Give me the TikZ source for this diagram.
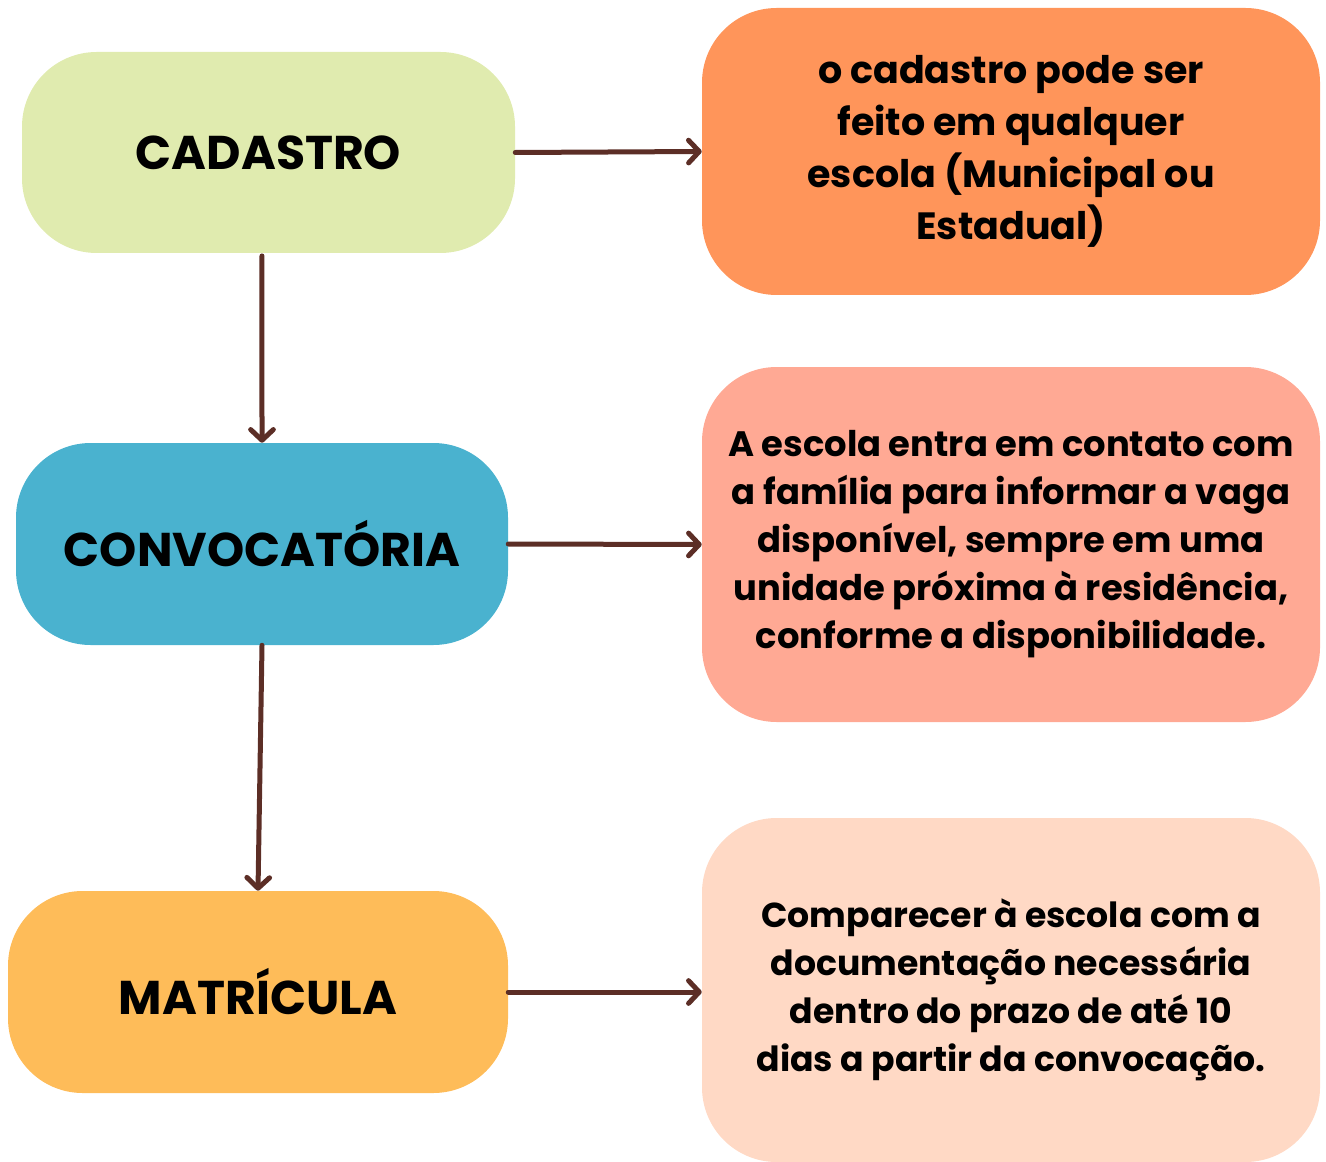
\documentclass[tikz,border=0pt]{standalone}
\usepackage{fontspec}
\setmainfont{Poppins}
\usetikzlibrary{arrows.meta}

\definecolor{cadfill}{HTML}{E0EBAF}
\definecolor{convfill}{HTML}{4AB2CF}
\definecolor{matfill}{HTML}{FEBC59}
\definecolor{infoA}{HTML}{FF955A}
\definecolor{infoB}{HTML}{FFA994}
\definecolor{infoC}{HTML}{FFD9C5}
\definecolor{linkcol}{HTML}{5C2E26}

\tikzset{
  stepbox/.style={rounded corners=56pt, inner sep=0pt, align=center,
    font=\fontsize{35.5}{40}\selectfont\bfseries},
  infobox/.style={rounded corners=56pt, inner sep=0pt, align=center,
    minimum width=463.5pt, font=\fontsize{26.5}{36}\selectfont\bfseries},
  link/.style={linkcol, line width=3.75pt, line cap=round,
    -{Straight Barb[length=8pt, width=17pt, line cap=round, line join=round]}}
}

\begin{document}
\begin{tikzpicture}[x=0.75pt, y=-0.75pt]
\useasboundingbox (0,0) rectangle (1326,1162);

% steps on the left
\node[stepbox, fill=cadfill, minimum width=369.75pt, minimum height=150.75pt] (cad) at (268.5,152.5) {CADASTRO};
\node[stepbox, fill=convfill, minimum width=369pt, minimum height=151.5pt] (conv) at (262,544) {CONVOCATÓRIA};
\node[stepbox, fill=matfill, minimum width=375pt, minimum height=151.5pt] (mat) at (258,992) {MATRÍCULA};

% notes on the right
\node[infobox, fill=infoA, minimum height=215.25pt, font=\fontsize{28.5}{39}\selectfont\bfseries] (infoa) at (1011,151.5)
  {o cadastro pode ser\\feito em qualquer\\escola (Municipal ou\\Estadual)};
\node[infobox, fill=infoB, minimum height=266.25pt] (infob) at (1011,544.5)
  {A escola entra em contato com\\a família para informar a vaga\\disponível, sempre em uma\\unidade próxima à residência,\\conforme a disponibilidade.};
\node[infobox, fill=infoC, minimum height=258pt, font=\fontsize{26}{36}\selectfont\bfseries] (infoc) at (1011,990)
  {Comparecer à escola com a\\documentação necessária\\dentro do prazo de até 10\\dias a partir da convocação.};

\draw[link] (cad.east) -- (infoa.west); %cad-infoa
\draw[link] (conv.east) -- (infob.west); %conv-infob
\draw[link] (mat.east) -- (mat.east -| infoc.west); %mat-infoc
\draw[link] ([xshift=-4.9pt, yshift=-2pt]cad.south) -- (conv.north); %cad-conv
\draw[link] (conv.south) -- (mat.north); %conv-mat

\end{tikzpicture}
\end{document}
